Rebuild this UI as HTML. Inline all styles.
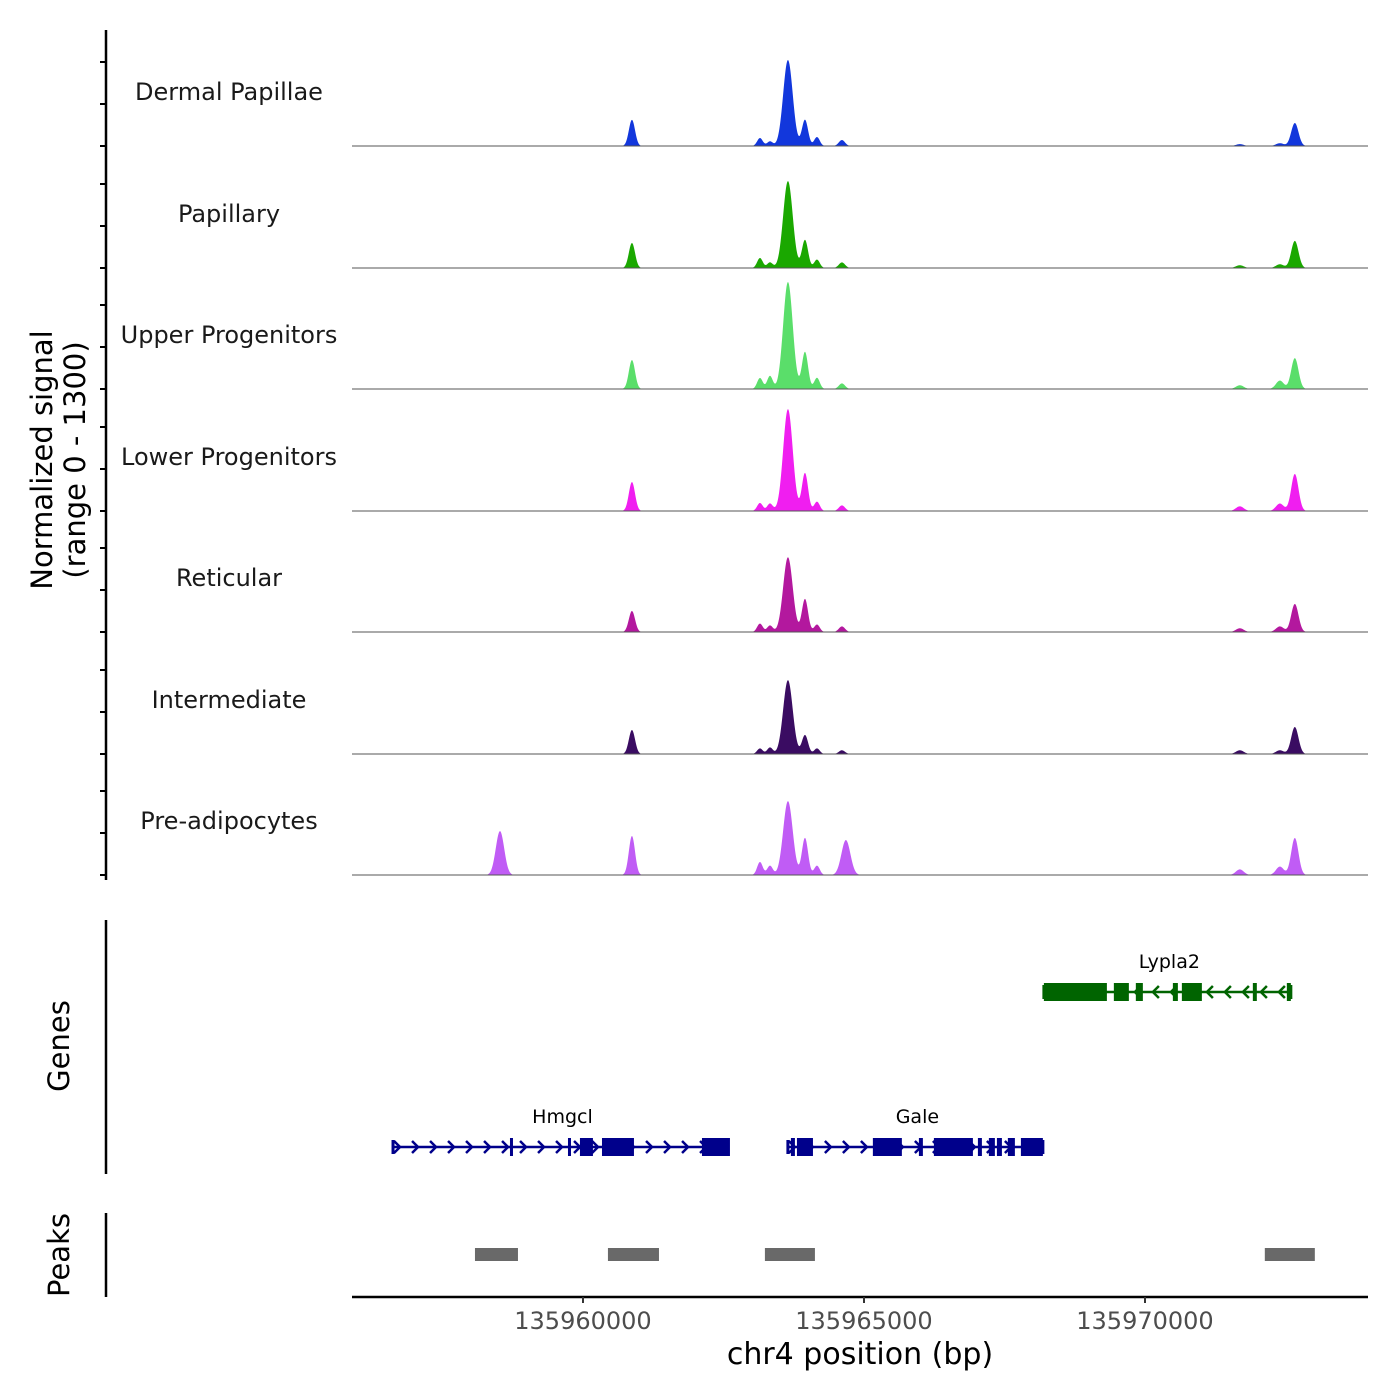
<!DOCTYPE html>
<html><head><meta charset="utf-8"><style>
body{margin:0;background:#fff}
svg{display:block;font-family:"DejaVu Sans","Liberation Sans",sans-serif}
</style></head><body>
<svg id="chart" width="1400" height="1400" viewBox="0 0 1400 1400"></svg>
<script>
// ---- data ----
const trackNames = ["Dermal Papillae","Papillary","Upper Progenitors","Lower Progenitors","Reticular","Intermediate","Pre-adipocytes"];
const trackColors = ["#1237dc","#1aa800","#5ade6a","#f01ef0","#b3189e","#3a0c62","#c05cf5"];
const peakCenters = [135958523,135960871,135963149,135963327,135963647,135963950,135964163,135964607,135964678,135971687,135972400,135972666];
const peakSigmas  = [75,55,50,50,85,55,50,55,80,70,70,65];
const hDermal  = [0,280,85,50,920,280,96,64,0,20,30,246];
const hPapil   = [0,268,107,60,930,300,90,60,0,30,40,290];
const hUpper   = [0,310,118,140,1145,396,120,60,0,40,90,330];
const hLower   = [0,310,86,80,1090,406,100,60,0,50,80,396];
const hRetic   = [0,225,90,70,800,353,80,60,0,40,60,300];
const hInter   = [0,257,60,70,790,203,60,40,0,40,40,289];
const hPreadi  = [470,417,139,100,790,396,100,0,374,60,90,396];
const trackHeights = [hDermal,hPapil,hUpper,hLower,hRetic,hInter,hPreadi];
const xTicks = [135960000,135965000,135970000];
const xTickLabels = ["135960000","135965000","135970000"];
const peakStarts = [135958078,135960444,135963237,135972132];
const peakEnds   = [135958843,135961352,135964127,135973022];
const geneNames  = ["Hmgcl","Gale","Lypla2"];
const geneStarts = [135956620,135963646,135968201];
const geneEnds   = [135962579,135968183,135972595];
const geneStrand = [1,1,-1];
const geneExons = [
 [[135958701,135958754],[135959733,135959786],[135959946,135960177],[135960338,135960907],[135962117,135962615]],
 [[135963700,135963771],[135963807,135964092],[135965158,135965674],[135965977,135966048],[135966244,135966938],[135967027,135967098],[135967222,135967329],[135967365,135967454],[135967560,135967685],[135967792,135968183]],
 [[135968201,135969322],[135969446,135969713],[135969837,135969962],[135970496,135970585],[135970656,135971012],[135971919,135971990],[135972524,135972595]]
];
// ---- scales ----
const X0=352,X1=1368,BP0=135955890,BP1=135973968;
const xs = bp => X0+(bp-BP0)/(BP1-BP0)*(X1-X0);
const pxPerUnit = 1/10.7;
const baselines=[146,268,389,511,632,754,875];
const NS="http://www.w3.org/2000/svg";
const svg=document.getElementById('chart');
function mk(tag,attrs,parent){const e=document.createElementNS(NS,tag);for(const k in attrs)e.setAttribute(k,attrs[k]);(parent||svg).appendChild(e);return e;}

let ax=mk('line',{x1:106,y1:30,x2:106,y2:880,stroke:'#000','stroke-width':2.5});


baselines.forEach(b=>{[0,42,84].forEach(d=>{let t=mk('line',{x1:100,y1:b-d,x2:106,y2:b-d,stroke:'#000','stroke-width':2});

});});
let yt=mk('text',{transform:'translate(52,460) rotate(-90)','text-anchor':'middle','font-size':29});


yt.textContent='Normalized signal';
let yt2=mk('text',{transform:'translate(85,460) rotate(-90)','text-anchor':'middle','font-size':29});


yt2.textContent='(range 0 - 1300)';

trackNames.forEach((nm,i)=>{
 const b=baselines[i],hs=trackHeights[i];
 const g=mk('g',{});
 
 
 let lab=mk('text',{x:229,y:b-46,'text-anchor':'middle','font-size':24,fill:'#1a1a1a'},g);
 
 
 lab.textContent=nm;
 let d='M'+X0+','+b;
 for(let x=X0;x<=1323;x+=0.5){
  const bp=BP0+(x-X0)/(X1-X0)*(BP1-BP0);
  let v=0;
  for(let k=0;k<peakCenters.length;k++){const z=(bp-peakCenters[k])/peakSigmas[k];v+=hs[k]*Math.exp(-0.5*z*z);}
  d+=' L'+x.toFixed(1)+','+(b-v*pxPerUnit).toFixed(2);
 }
 d+=' L1323,'+b+' Z';
 let p=mk('path',{d:d,fill:trackColors[i],stroke:'none'},g);
 
 
 let bl=mk('line',{x1:X0,y1:b,x2:X1,y2:b,stroke:'#555','stroke-width':1},g);
 
 
});

let ga=mk('line',{x1:106,y1:920,x2:106,y2:1174,stroke:'#000','stroke-width':2.5});


let gt=mk('text',{transform:'translate(69,1046) rotate(-90)','text-anchor':'middle','font-size':29});


gt.textContent='Genes';
const geneY=[1147,1147,992],geneCol=['#00008b','#00008b','#006400'];
geneNames.forEach((nm,i)=>{
 const y=geneY[i],c=geneCol[i];
 const g=mk('g',{});
 
 
 const xa=xs(geneStarts[i]),xb=xs(geneEnds[i]);
 mk('line',{x1:xa,y1:y,x2:xb,y2:y,stroke:c,'stroke-width':2.5},g);
 for(let x=xa+4;x<xb;x+=18){const s=geneStrand[i];
  mk('polyline',{points:`${x-3*s},${y-6} ${x+3*s},${y} ${x-3*s},${y+6}`,fill:'none',stroke:c,'stroke-width':2.5},g);}
 geneExons[i].forEach(e=>{let r=mk('rect',{x:xs(e[0]),y:y-9,width:Math.max(3,xs(e[1])-xs(e[0])),height:18,fill:c},g);
 
 });
 mk('line',{x1:xa,y1:y-7,x2:xa,y2:y+7,stroke:c,'stroke-width':3},g);
 mk('line',{x1:xb,y1:y-7,x2:xb,y2:y+7,stroke:c,'stroke-width':3},g);
 let t=mk('text',{x:(xa+xb)/2+2,y:y-24,'text-anchor':'middle','font-size':19,fill:'#000'},g);
 
 
 t.textContent=nm;
});

let pa=mk('line',{x1:106,y1:1213,x2:106,y2:1297,stroke:'#000','stroke-width':2.5});


let pt=mk('text',{transform:'translate(69,1255) rotate(-90)','text-anchor':'middle','font-size':29});


pt.textContent='Peaks';
peakStarts.forEach((s,i)=>{let r=mk('rect',{x:xs(s),y:1248,width:xs(peakEnds[i])-xs(s),height:13,fill:'#696969'});

});

let xa=mk('line',{x1:X0,y1:1297,x2:X1,y2:1297,stroke:'#000','stroke-width':2.5});


xTicks.forEach((t,i)=>{
 let tk=mk('line',{x1:xs(t),y1:1297,x2:xs(t),y2:1303,stroke:'#333','stroke-width':2});
 
 
 let l=mk('text',{x:xs(t),y:1329,'text-anchor':'middle','font-size':24,fill:'#4d4d4d'});
 
 
 l.textContent=xTickLabels[i];
});
let xt=mk('text',{x:860,y:1364,'text-anchor':'middle','font-size':30});


xt.textContent='chr4 position (bp)';
</script>
</body></html>
